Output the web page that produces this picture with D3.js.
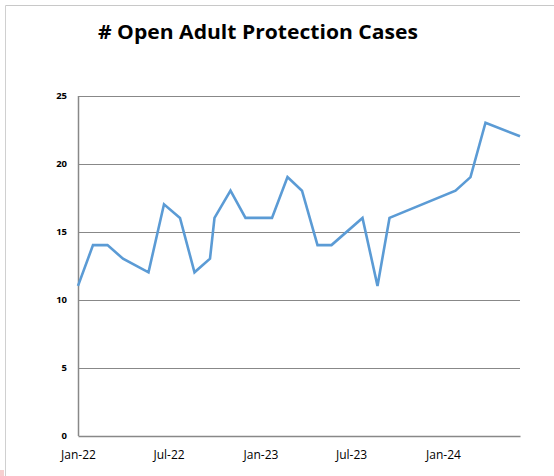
<!DOCTYPE html>
<html><head><meta charset="utf-8">
<script src="https://cdn.jsdelivr.net/npm/d3@7"></script>
<style>body{margin:0;background:#fff}svg{display:block}</style>
</head><body>
<script>
const title = "# Open Adult Protection Cases";
const dates = ["2022-01-01","2022-01-31","2022-03-01","2022-04-01","2022-05-22","2022-06-22","2022-07-24","2022-08-22","2022-09-22","2022-10-01","2022-11-02","2022-12-02","2023-01-24","2023-02-24","2023-03-25","2023-04-25","2023-05-23","2023-07-24","2023-08-23","2023-09-16","2024-01-26","2024-02-25","2024-03-26","2024-06-03"];
const values = [11,14,14,13,12,17,16,12,13,16,18,16,16,19,18,14,14,16,11,16,18,19,23,22];
const xTickDates = ["2022-01-01","2022-07-01","2023-01-01","2023-07-01","2024-01-01"];
const xTickLabels = ["Jan-22","Jul-22","Jan-23","Jul-23","Jan-24"];
const yTicks = [0,5,10,15,20,25];

const W = 554, H = 476;
const svg = d3.select("body").append("svg").attr("width", W).attr("height", H);
const parse = d3.utcParse("%Y-%m-%d");
const data = dates.map((d,i)=>({d:parse(d), v:values[i]}));

// frame
svg.append("line").attr("x1",5.5).attr("x2",W).attr("y1",5.5).attr("y2",5.5).attr("stroke","#c8c8c8");
svg.append("line").attr("x1",5.5).attr("x2",5.5).attr("y1",5.5).attr("y2",H).attr("stroke","#d0d0d0");
svg.append("rect").attr("x",0).attr("y",470).attr("width",4).attr("height",6).attr("fill","#f6d0d0");

const x = d3.scaleUtc().domain([parse("2022-01-01"), data[data.length-1].d]).range([78, 520]);
const y = d3.scaleLinear().domain([0,25]).range([435.5, 95.5]);

// gridlines
svg.append("g").selectAll("line").data(yTicks.filter(t=>t>0)).join("line")
  .attr("x1",78).attr("x2",520).attr("y1",d=>Math.round(y(d))+0.5).attr("y2",d=>Math.round(y(d))+0.5)
  .attr("stroke","#888").attr("stroke-width",1);

// y axis
const yAxis = d3.axisLeft(y).tickValues(yTicks).tickSize(0).tickPadding(11);
const gy = svg.append("g").attr("transform","translate(78,0)").call(yAxis);
gy.select(".domain").attr("stroke","#888").attr("stroke-width",1.5);
gy.selectAll("text").attr("font-family","'Open Sans', sans-serif").attr("font-size","9.5px").attr("font-weight","bold").attr("fill","#000").attr("dy","0.35em");

// x axis
const xAxis = d3.axisBottom(x).tickValues(xTickDates.map(parse)).tickFormat((d,i)=>xTickLabels[i]).tickSize(0).tickPadding(14);
const gx = svg.append("g").attr("transform","translate(0,436)").call(xAxis);
gx.select(".domain").attr("stroke","#888").attr("stroke-width",1.5);
gx.selectAll("text").attr("font-family","'Open Sans', sans-serif").attr("font-size","12px").attr("fill","#000");

// line
svg.append("path").datum(data)
  .attr("d", d3.line().x(d=>x(d.d)).y(d=>y(d.v)))
  .attr("fill","none").attr("stroke","#5b9bd5").attr("stroke-width",2.6).attr("stroke-linejoin","miter");

// title
svg.append("text").attr("x",258).attr("y",39).attr("text-anchor","middle")
  .attr("font-family","'Open Sans', sans-serif").attr("font-weight","bold").attr("font-size","19px")
  .attr("textLength",320).attr("lengthAdjust","spacingAndGlyphs").attr("fill","#000").text(title);
</script>
</body></html>
